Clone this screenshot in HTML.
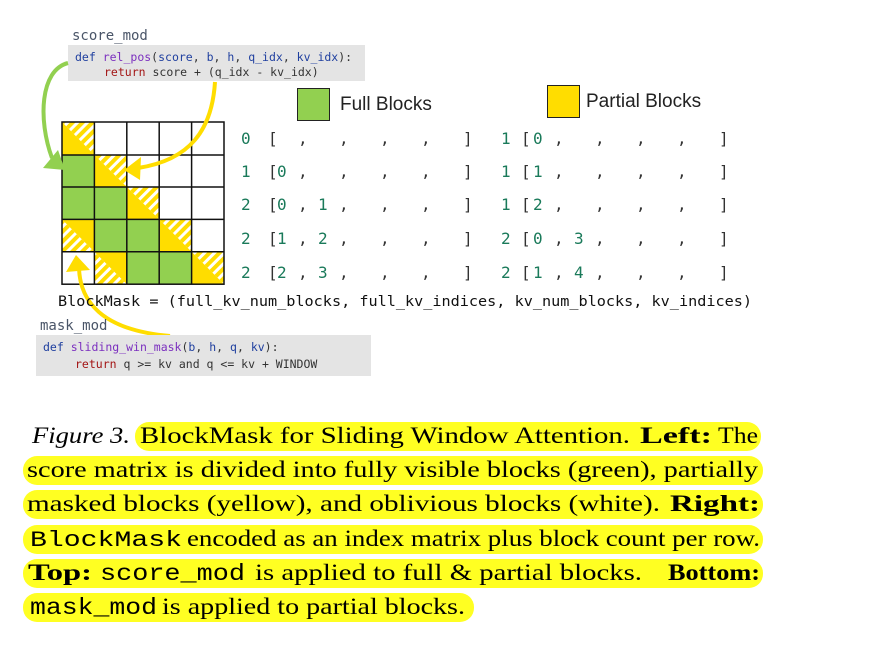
<!DOCTYPE html>
<html><head><meta charset="utf-8"><style>
html,body{margin:0;padding:0;background:#fff;width:877px;height:663px;overflow:hidden}
svg{display:block}
.m{font-family:"DejaVu Sans Mono","Liberation Mono",monospace}
.s{font-family:"Liberation Sans",sans-serif}
.t{font-family:"Liberation Serif",serif;font-size:23px;fill:#000}
.g{fill:#1a7a5a}
.k{fill:#333}
</style></head><body>
<svg width="877" height="663" viewBox="0 0 877 663" xmlns="http://www.w3.org/2000/svg">
<defs>
<pattern id="h" patternUnits="userSpaceOnUse" width="7" height="7" patternTransform="rotate(45)">
<rect width="7" height="7" fill="#ffdd00"/><rect x="0" y="0" width="3" height="7" fill="#fff"/>
</pattern>
</defs>
<!-- top code box -->
<text x="72" y="40" class="m" font-size="14" fill="#4a5568">score_mod</text>
<rect x="68" y="45" width="297" height="36" fill="#e4e4e4"/>
<text x="75" y="61" class="m" font-size="11.5"><tspan fill="#1f3f9f">def </tspan><tspan fill="#7b2fbf">rel_pos</tspan><tspan fill="#333">(</tspan><tspan fill="#1f3f9f">score</tspan><tspan fill="#333">, </tspan><tspan fill="#1f3f9f">b</tspan><tspan fill="#333">, </tspan><tspan fill="#1f3f9f">h</tspan><tspan fill="#333">, </tspan><tspan fill="#1f3f9f">q_idx</tspan><tspan fill="#333">, </tspan><tspan fill="#1f3f9f">kv_idx</tspan><tspan fill="#333">):</tspan></text>
<text x="104" y="76" class="m" font-size="11.5"><tspan fill="#a31515">return</tspan><tspan fill="#333"> score + (q_idx - kv_idx)</tspan></text>

<!-- legend -->
<rect x="297.5" y="88.5" width="32" height="32" fill="#92d050" stroke="#222"/>
<text x="340" y="110" class="s" font-size="19" fill="#222">Full Blocks</text>
<rect x="547.5" y="85.5" width="32" height="32" fill="#ffdd00" stroke="#222"/>
<text x="586" y="107" class="s" font-size="19" fill="#222">Partial Blocks</text>

<!-- grid -->
<g>
<!-- green cells -->
<rect x="62" y="155" width="32.4" height="32.4" fill="#92d050"/>
<rect x="62" y="187" width="32.4" height="32.4" fill="#92d050"/>
<rect x="94.4" y="187" width="32.4" height="32.4" fill="#92d050"/>
<rect x="94.4" y="219.4" width="32.4" height="32.4" fill="#92d050"/>
<rect x="126.8" y="219.4" width="32.4" height="32.4" fill="#92d050"/>
<rect x="126.8" y="251.8" width="32.4" height="32.4" fill="#92d050"/>
<rect x="159.2" y="251.8" width="32.4" height="32.4" fill="#92d050"/>
<!-- partial: yellow lower-left, hatched upper-right -->
<g id="p1">
<polygon points="62,122 94.4,122 94.4,155" fill="url(#h)"/><polygon points="62,122 62,155 94.4,155" fill="#ffdd00"/>
</g>
<polygon points="94.4,155 126.8,155 126.8,187" fill="url(#h)"/><polygon points="94.4,155 94.4,187 126.8,187" fill="#ffdd00"/>
<polygon points="126.8,187 159.2,187 159.2,219.4" fill="url(#h)"/><polygon points="126.8,187 126.8,219.4 159.2,219.4" fill="#ffdd00"/>
<polygon points="159.2,219.4 191.6,219.4 191.6,251.8" fill="url(#h)"/><polygon points="159.2,219.4 159.2,251.8 191.6,251.8" fill="#ffdd00"/>
<polygon points="191.6,251.8 224,251.8 224,284.2" fill="url(#h)"/><polygon points="191.6,251.8 191.6,284.2 224,284.2" fill="#ffdd00"/>
<!-- partial: yellow upper-right, hatched lower-left -->
<polygon points="62,219.4 62,251.8 94.4,251.8" fill="url(#h)"/><polygon points="62,219.4 94.4,219.4 94.4,251.8" fill="#ffdd00"/>
<polygon points="94.4,251.8 94.4,284.2 126.8,284.2" fill="url(#h)"/><polygon points="94.4,251.8 126.8,251.8 126.8,284.2" fill="#ffdd00"/>
<!-- lines -->
<g stroke="#111" stroke-width="1.5" fill="none">
<rect x="62" y="122" width="162" height="162.2"/>
<line x1="94.4" y1="122" x2="94.4" y2="284.2"/><line x1="126.8" y1="122" x2="126.8" y2="284.2"/>
<line x1="159.2" y1="122" x2="159.2" y2="284.2"/><line x1="191.6" y1="122" x2="191.6" y2="284.2"/>
<line x1="62" y1="155" x2="224" y2="155"/><line x1="62" y1="187" x2="224" y2="187"/>
<line x1="62" y1="219.4" x2="224" y2="219.4"/><line x1="62" y1="251.8" x2="224" y2="251.8"/>
</g>
</g>

<!-- arrows -->
<path d="M68,63 C40,70 38,120 52,158" stroke="#92d050" stroke-width="4" fill="none"/>
<polygon points="43,168 58,150 65,170" fill="#92d050"/>
<path d="M215,82 C212,130 190,160 138,168" stroke="#ffdd00" stroke-width="4" fill="none"/>
<polygon points="124,170 141,157 140,180" fill="#ffdd00"/>
<path d="M170,336 C100,330 80,300 79,268" stroke="#ffdd00" stroke-width="4" fill="none"/>
<polygon points="76,255 66,272 90,270" fill="#ffdd00"/>

<!-- matrices -->
<g class="m" font-size="16">
<g class="k">
<text x="268" y="144">[</text><text x="268" y="177">[</text><text x="268" y="210">[</text><text x="268" y="244">[</text><text x="268" y="278">[</text>
<text x="463" y="144">]</text><text x="463" y="177">]</text><text x="463" y="210">]</text><text x="463" y="244">]</text><text x="463" y="278">]</text>
<text x="521" y="144">[</text><text x="521" y="177">[</text><text x="521" y="210">[</text><text x="521" y="244">[</text><text x="521" y="278">[</text>
<text x="719" y="144">]</text><text x="719" y="177">]</text><text x="719" y="210">]</text><text x="719" y="244">]</text><text x="719" y="278">]</text>
</g>
<g class="k">
<text x="298" y="144">,</text><text x="339" y="144">,</text><text x="380" y="144">,</text><text x="421" y="144">,</text>
<text x="298" y="177">,</text><text x="339" y="177">,</text><text x="380" y="177">,</text><text x="421" y="177">,</text>
<text x="298" y="210">,</text><text x="339" y="210">,</text><text x="380" y="210">,</text><text x="421" y="210">,</text>
<text x="298" y="244">,</text><text x="339" y="244">,</text><text x="380" y="244">,</text><text x="421" y="244">,</text>
<text x="298" y="278">,</text><text x="339" y="278">,</text><text x="380" y="278">,</text><text x="421" y="278">,</text>
<text x="554" y="144">,</text><text x="595" y="144">,</text><text x="636" y="144">,</text><text x="677" y="144">,</text>
<text x="554" y="177">,</text><text x="595" y="177">,</text><text x="636" y="177">,</text><text x="677" y="177">,</text>
<text x="554" y="210">,</text><text x="595" y="210">,</text><text x="636" y="210">,</text><text x="677" y="210">,</text>
<text x="554" y="244">,</text><text x="595" y="244">,</text><text x="636" y="244">,</text><text x="677" y="244">,</text>
<text x="554" y="278">,</text><text x="595" y="278">,</text><text x="636" y="278">,</text><text x="677" y="278">,</text>
</g>
<g class="g">
<text x="241" y="144">0</text><text x="241" y="177">1</text><text x="241" y="210">2</text><text x="241" y="244">2</text><text x="241" y="278">2</text>
<text x="277" y="177">0</text>
<text x="277" y="210">0</text><text x="318" y="210">1</text>
<text x="277" y="244">1</text><text x="318" y="244">2</text>
<text x="277" y="278">2</text><text x="318" y="278">3</text>
<text x="501" y="144">1</text><text x="501" y="177">1</text><text x="501" y="210">1</text><text x="501" y="244">2</text><text x="501" y="278">2</text>
<text x="533" y="144">0</text><text x="533" y="177">1</text><text x="533" y="210">2</text>
<text x="533" y="244">0</text><text x="574" y="244">3</text>
<text x="533" y="278">1</text><text x="574" y="278">4</text>
</g>
</g>
<text x="58" y="306" class="m" font-size="14.5" fill="#111" textLength="694" lengthAdjust="spacingAndGlyphs">BlockMask = (full_kv_num_blocks, full_kv_indices, kv_num_blocks, kv_indices)</text>

<!-- bottom code box -->
<text x="40" y="330" class="m" font-size="14" fill="#4a5568">mask_mod</text>
<rect x="36" y="335" width="335" height="41" fill="#e4e4e4"/>
<text x="43" y="351" class="m" font-size="11.5"><tspan fill="#1f3f9f">def </tspan><tspan fill="#7b2fbf">sliding_win_mask</tspan><tspan fill="#333">(</tspan><tspan fill="#1f3f9f">b</tspan><tspan fill="#333">, </tspan><tspan fill="#1f3f9f">h</tspan><tspan fill="#333">, </tspan><tspan fill="#1f3f9f">q</tspan><tspan fill="#333">, </tspan><tspan fill="#1f3f9f">kv</tspan><tspan fill="#333">):</tspan></text>
<text x="75" y="368" class="m" font-size="11.5"><tspan fill="#a31515">return</tspan><tspan fill="#333"> q &gt;= kv and q &lt;= kv + WINDOW</tspan></text>

<!-- caption highlights -->
<g fill="#ffff22">
<rect x="135" y="422" width="626" height="29" rx="14"/>
<rect x="23" y="456" width="740" height="29" rx="14"/>
<rect x="23" y="490" width="740" height="29" rx="14"/>
<rect x="23" y="525" width="740" height="29" rx="14"/>
<rect x="23" y="559" width="740" height="29" rx="14"/>
<rect x="23" y="593" width="451" height="29" rx="14"/>
</g>
<g class="t">
<text x="32" y="443" font-style="italic" textLength="98" lengthAdjust="spacingAndGlyphs">Figure 3.</text>
<text x="140" y="443" textLength="490" lengthAdjust="spacingAndGlyphs">BlockMask for Sliding Window Attention.</text>
<text x="640" y="443" font-weight="bold" textLength="72" lengthAdjust="spacingAndGlyphs">Left:</text>
<text x="718" y="443" textLength="40" lengthAdjust="spacingAndGlyphs">The</text>
<text x="27" y="477" textLength="731" lengthAdjust="spacingAndGlyphs">score matrix is divided into fully visible blocks (green), partially</text>
<text x="27" y="511" textLength="633" lengthAdjust="spacingAndGlyphs">masked blocks (yellow), and oblivious blocks (white).</text>
<text x="670" y="511" font-weight="bold" textLength="90" lengthAdjust="spacingAndGlyphs">Right:</text>
<text x="30" y="546" class="m" font-family="Liberation Mono" font-size="22" textLength="152" lengthAdjust="spacingAndGlyphs" style="font-family:'Liberation Mono',monospace">BlockMask</text>
<text x="187" y="546" textLength="573" lengthAdjust="spacingAndGlyphs">encoded as an index matrix plus block count per row.</text>
<text x="28" y="580" font-weight="bold" textLength="64" lengthAdjust="spacingAndGlyphs">Top:</text>
<text x="100" y="580" style="font-family:'Liberation Mono',monospace" textLength="145" lengthAdjust="spacingAndGlyphs">score_mod</text>
<text x="255" y="580" textLength="387" lengthAdjust="spacingAndGlyphs">is applied to full &amp; partial blocks.</text>
<text x="668" y="580" font-weight="bold" textLength="92" lengthAdjust="spacingAndGlyphs">Bottom:</text>
<text x="30" y="614" style="font-family:'Liberation Mono',monospace" textLength="127" lengthAdjust="spacingAndGlyphs">mask_mod</text>
<text x="162" y="614" textLength="303" lengthAdjust="spacingAndGlyphs">is applied to partial blocks.</text>
</g>
</svg>
</body></html>
